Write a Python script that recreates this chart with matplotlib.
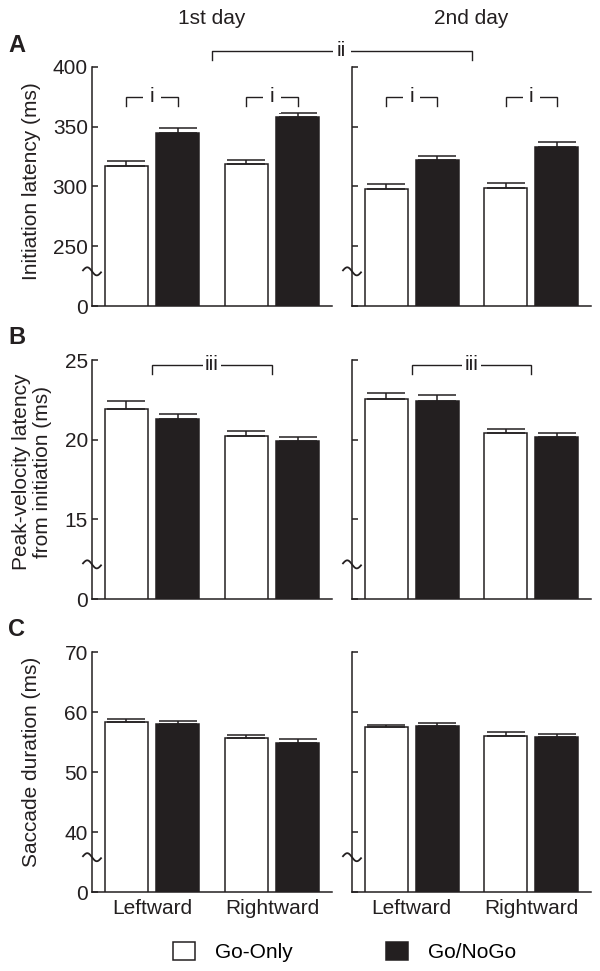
import numpy as np
import matplotlib
matplotlib.use('Agg')
import matplotlib.pyplot as plt
from matplotlib.lines import Line2D

plt.rcParams['font.family'] = ['Liberation Sans', 'DejaVu Sans']
plt.rcParams['font.size'] = 15

INK = '#231f20'

categories = ['Leftward', 'Rightward']
days = ['1st day', '2nd day']
series_names = ['Go-Only', 'Go/NoGo']

# rows: day (1st, 2nd), cols: direction (Leftward, Rightward)
init_go_only = [[317, 319], [298, 299]]
init_go_only_err = [[4, 3.5], [4, 4]]
init_gonogo = [[345, 358], [322, 333]]
init_gonogo_err = [[4, 3.5], [3.5, 4]]

pv_go_only = [[21.9, 20.25], [22.55, 20.4]]
pv_go_only_err = [[0.5, 0.3], [0.4, 0.3]]
pv_gonogo = [[21.3, 19.9], [22.4, 20.15]]
pv_gonogo_err = [[0.3, 0.27], [0.4, 0.27]]

dur_go_only = [[58.4, 55.7], [57.5, 56.0]]
dur_go_only_err = [[0.5, 0.5], [0.35, 0.7]]
dur_gonogo = [[58.0, 54.9], [57.7, 55.8]]
dur_gonogo_err = [[0.5, 0.55], [0.5, 0.45]]

# broken axis: the lowest tick stands for 0
init_ticks = [200, 250, 300, 350, 400]
init_ticklabels = ['0', '250', '300', '350', '400']
pv_ticks = [10, 15, 20, 25]
pv_ticklabels = ['0', '15', '20', '25']
dur_ticks = [30, 40, 50, 60, 70]
dur_ticklabels = ['0', '40', '50', '60', '70']

rows = [
    dict(letter='A', ylabel='Initiation latency (ms)', ticks=init_ticks, labels=init_ticklabels,
         a=init_go_only, a_err=init_go_only_err, b=init_gonogo, b_err=init_gonogo_err),
    dict(letter='B', ylabel='Peak-velocity latency\nfrom initiation (ms)', ticks=pv_ticks, labels=pv_ticklabels,
         a=pv_go_only, a_err=pv_go_only_err, b=pv_gonogo, b_err=pv_gonogo_err),
    dict(letter='C', ylabel='Saccade duration (ms)', ticks=dur_ticks, labels=dur_ticklabels,
         a=dur_go_only, a_err=dur_go_only_err, b=dur_gonogo, b_err=dur_gonogo_err),
]

W, H = 600, 971
fig = plt.figure(figsize=(W / 100, H / 100), dpi=100)

col_left = [92, 352]
col_width = [240, 239]
row_top = [67, 360, 652]
row_height = [239, 239, 240]
label_shift = [5, 8, 10]


def px_axes(left, top, width, height):
    return fig.add_axes([left / W, 1 - (top + height) / H, width / W, height / H])


def bracket(ax, x0, x1, y_top, y_end, label, pad):
    ax.plot([x0, x0, x1, x1], [y_end, y_top, y_top, y_end], color=INK, lw=1.0,
            clip_on=False, solid_joinstyle='miter')
    ax.text((x0 + x1) / 2, y_top, label, ha='center', va='center', color=INK, fontsize=15,
            bbox=dict(boxstyle='square,pad=%.2f' % pad, fc='white', ec='none'))


def axis_break(ax):
    t = np.linspace(0, 1, 60)
    xs = (-9 + 18 * t) / ax.bbox.width
    ys = 0.145 + (3.5 * np.sin(2 * np.pi * t) - 2 * (t - 0.5)) / ax.bbox.height
    ax.plot(xs, ys, transform=ax.transAxes, color=INK, lw=1.3, clip_on=False, zorder=5)


x = np.arange(1, len(categories) + 1)
off = 0.215
bw = 0.36
handles = None

for r, spec in enumerate(rows):
    for c in range(2):
        ax = px_axes(col_left[c], row_top[r], col_width[c], row_height[r])
        a = np.array(spec['a'][c])
        b = np.array(spec['b'][c])
        ea = np.array(spec['a_err'][c])
        eb = np.array(spec['b_err'][c])
        h1 = ax.bar(x - off, a, bw, color='white', edgecolor=INK, linewidth=1.1)
        h2 = ax.bar(x + off, b, bw, color=INK, edgecolor=INK, linewidth=1.1)
        ax.errorbar(x - off, a, yerr=[np.zeros_like(ea), ea], fmt='none', ecolor=INK,
                    elinewidth=1.1, capsize=14, capthick=1.1)
        ax.errorbar(x + off, b, yerr=[np.zeros_like(eb), eb], fmt='none', ecolor=INK,
                    elinewidth=1.1, capsize=14, capthick=1.1)
        if handles is None:
            handles = [h1, h2]

        ax.set_xlim(0.5, 2.5)
        ax.set_ylim(spec['ticks'][0], spec['ticks'][-1])
        ax.set_yticks(spec['ticks'])
        ax.set_yticklabels(spec['labels'])
        for s in ['top', 'right']:
            ax.spines[s].set_visible(False)
        for s in ['left', 'bottom']:
            ax.spines[s].set_linewidth(1.1)
            ax.spines[s].set_color(INK)
        ax.tick_params(axis='y', direction='in', length=4, width=1.1, pad=3,
                       labelsize=15, colors=INK, labelleft=(c == 0))
        ax.set_xticks(x)
        if r == 2:
            ax.set_xticklabels(categories)
        else:
            ax.set_xticklabels([])
        ax.tick_params(axis='x', length=0, pad=5, labelsize=15, colors=INK)
        axis_break(ax)

        if r == 0:
            for g in range(2):
                bracket(ax, x[g] - off, x[g] + off, 375, 367, 'i', 0.3)
        if r == 1:
            bracket(ax, x[0], x[1], 24.7, 24.1, 'iii', 0.12)

    fig.text(32 / W, 1 - (row_top[r] + row_height[r] / 2 - label_shift[r]) / H, spec['ylabel'],
             rotation=90, ha='center', va='center', fontsize=15, color=INK,
             linespacing=1.12)
    fig.text(8 / W, 1 - (row_top[r] - 22) / H, spec['letter'], fontsize=17,
             fontweight='bold', color=INK, ha='left', va='center')

for c in range(2):
    fig.text((col_left[c] + col_width[c] / 2) / W, 1 - 19 / H, days[c], ha='center',
             va='center', fontsize=15, color=INK)

# bracket ii spanning both days
xl = (col_left[0] + col_width[0] / 2) / W
xr = (col_left[1] + col_width[1] / 2) / W
yt = 1 - 51 / H
ye = 1 - 60 / H
fig.add_artist(Line2D([xl, xl, xr, xr], [ye, yt, yt, ye], color=INK, lw=1.0,
                      transform=fig.transFigure))
fig.text((xl + xr) / 2, yt, 'ii', ha='center', va='center', fontsize=15, color=INK,
         bbox=dict(boxstyle='square,pad=0.2', fc='white', ec='none'))

fig.legend(handles, series_names, loc='center left', bbox_to_anchor=(173 / W, 1 - 952 / H),
           ncol=2, frameon=False, borderpad=0, borderaxespad=0, handlelength=1.05,
           handleheight=1.0, handletextpad=0.95, columnspacing=4.5, fontsize=15)

fig.savefig('out.png', dpi=100)
